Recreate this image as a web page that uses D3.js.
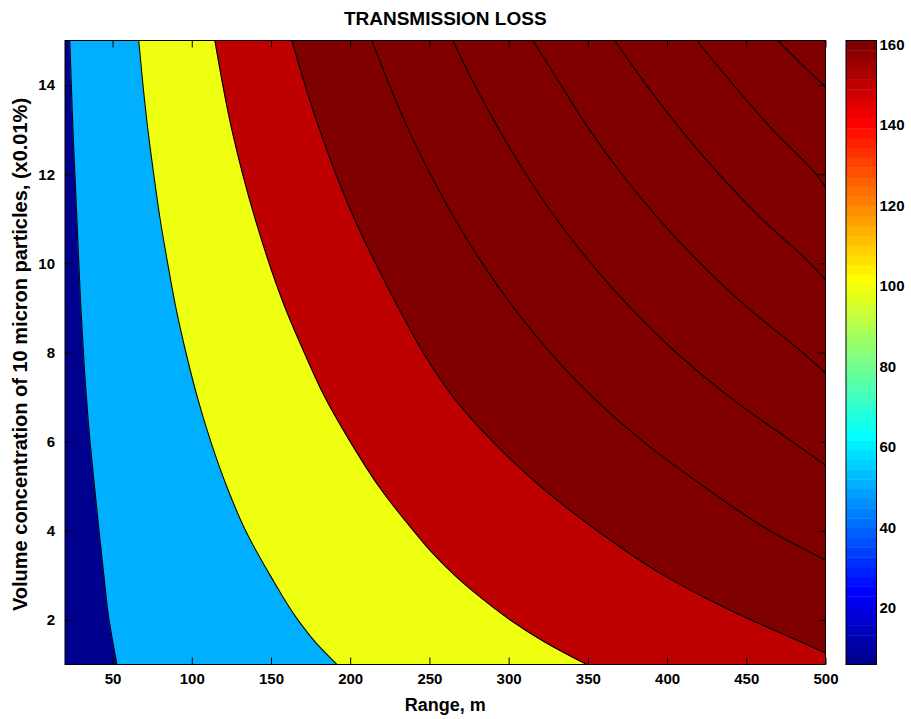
<!DOCTYPE html>
<html>
<head>
<meta charset="utf-8">
<script src="https://cdn.jsdelivr.net/npm/d3@7"></script>
<style>
  body { margin: 0; background: #fff; }
  svg { display: block; }
  text { font-family: "Liberation Sans", Arial, Helvetica, sans-serif; font-weight: bold; fill: #000; }
</style>
</head>
<body>
<svg id="chart" width="911" height="719"></svg>
<script>
// Transmission loss (dB) over range (m) and particle volume concentration.
const rangeExtent = [20, 500];
const concExtent = [1, 15];
const rangeTicks = [50, 100, 150, 200, 250, 300, 350, 400, 450, 500];
const concTicks = [2, 4, 6, 8, 10, 12, 14];
const colorbarTicks = [20, 40, 60, 80, 100, 120, 140, 160];
const colorLimits = [6, 161];
const belowLowest = 6;  // loss value shown for the band under the first contour
const levels = [50, 100, 150, 200, 250, 300, 350, 400, 450, 500];

// Contour lines as [range m, concentration] pairs, top edge downwards.
const contour50 = [[23,15],[25,13],[27.5,11],[30,9],[32.5,7.5],[35.8,6],[38.6,5],[41.5,4],[44.5,3],[47.8,2],[50.2,1.5],[52.8,1]];
const contour100 = [[66.5,15],[69.2,14],[72.3,13],[76,12],[80,11],[84.8,10],[90,9],[96.3,8],[103.5,7],[112,6],[122,5],[134,4],[149.5,3],[167,2],[178,1.5],[191.6,1]];
const contour150 = [[114.6,15],[125.3,13],[140,11],[159,9],[171,8],[184,7],[200,6],[218,5],[240,4],[252,3.5],[266,3],[282.5,2.5],[301,2],[323,1.5],[349.3,1]];
const contour200 = [[163.2,15],[171.5,14],[180.7,13],[191,12],[202.6,11],[216,10],[230.5,9],[246,8],[265,7],[290,6],[320,5],[356,4],[398,3],[424,2.5],[453,2],[485,1.5],[500,1.26]];
const contour250 = [[213.7,15],[224.8,14],[236.8,13],[250.6,12],[266,11],[283.4,10],[303.3,9],[326.2,8],[353,7],[385,6],[423,5],[465,4],[500,3.34]];
const contour300 = [[264.8,15],[278.6,14],[294,13],[311,12],[330,11],[352,10],[377,9],[405.7,8],[439.5,7],[479,6],[500,5.47]];
const contour350 = [[315.3,15],[333,14],[351,13],[371.5,12],[394.7,11],[421,10],[451,9],[485.5,8],[500,7.54]];
const contour400 = [[367,15],[387,14],[408.7,13],[432.8,12],[459.6,11],[490.3,10],[500,9.63]];
const contour450 = [[418.7,15],[442,14],[466.5,13],[494,12],[500,11.71]];
const contour500 = [[469.8,15],[484,14.5],[500,13.96]];

const contours = [contour50, contour100, contour150, contour200, contour250,
                  contour300, contour350, contour400, contour450, contour500];

// MATLAB-style jet colormap with 64 entries
const nColors = 64;
function jet(k) {
  const i = k + 1;
  const cl = v => Math.max(0, Math.min(1, v));
  const r = cl(Math.min((i - 24) / 16, (72 - i) / 16));
  const g = cl(Math.min((i - 8) / 16, (56 - i) / 16));
  const b = cl(Math.min((i + 8) / 16, (40 - i) / 16));
  return d3.rgb(Math.round(r * 255), Math.round(g * 255), Math.round(b * 255)).formatHex();
}
function colorIndex(v) {
  const t = (v - colorLimits[0]) / (colorLimits[1] - colorLimits[0]);
  return Math.max(0, Math.min(nColors - 1, Math.floor(t * nColors)));
}
const colorOf = v => jet(colorIndex(v));

const svg = d3.select("#chart");
const plot = { left: 65, right: 825.5, top: 40.5, bottom: 664.5 };

const x = d3.scaleLinear().domain(rangeExtent).range([plot.left, plot.right]);
const y = d3.scaleLinear().domain(concExtent).range([plot.bottom, plot.top]);

svg.append("defs").append("clipPath").attr("id", "plotClip")
  .append("rect")
  .attr("x", x(rangeExtent[0])).attr("y", y(concExtent[1]))
  .attr("width", x(rangeExtent[1]) - x(rangeExtent[0]))
  .attr("height", y(concExtent[0]) - y(concExtent[1]));

const field = svg.append("g").attr("clip-path", "url(#plotClip)");

// lowest band
field.append("rect")
  .attr("x", x(rangeExtent[0])).attr("y", y(concExtent[1]))
  .attr("width", x(rangeExtent[1]) - x(rangeExtent[0]))
  .attr("height", y(concExtent[0]) - y(concExtent[1]))
  .attr("fill", colorOf(belowLowest));

// each band fills everything beyond its contour (higher range / concentration)
const band = d3.area()
  .y(d => y(d[1]))
  .x0(d => x(d[0]))
  .x1(() => x(rangeExtent[1]))
  .curve(d3.curveMonotoneY);

const contourLine = d3.line()
  .x(d => x(d[0]))
  .y(d => y(d[1]))
  .curve(d3.curveMonotoneY);

levels.forEach((lv, i) => {
  field.append("path")
    .attr("d", band(contours[i]))
    .attr("fill", colorOf(lv))
    .attr("stroke", colorOf(lv))
    .attr("stroke-width", 0.5);
});
levels.forEach((lv, i) => {
  field.append("path")
    .attr("d", contourLine(contours[i]))
    .attr("fill", "none")
    .attr("stroke", "#000")
    .attr("stroke-width", 1.1);
});

// axes with inward ticks on all four sides
const tickLen = 7;
function styleAxis(g, size) {
  g.select(".domain").remove();
  g.selectAll("line").attr("stroke", "#000").attr("stroke-width", 1);
  g.selectAll("text").style("font-size", size + "px").style("font-weight", "bold")
    .style("font-family", '"Liberation Sans", Arial, sans-serif');
}
svg.append("g").attr("transform", `translate(0,${plot.bottom})`)
  .call(d3.axisBottom(x).tickValues(rangeTicks).tickSizeInner(-tickLen).tickSizeOuter(0).tickPadding(9))
  .call(g => styleAxis(g, 15));
svg.append("g").attr("transform", `translate(0,${plot.top})`)
  .call(d3.axisTop(x).tickValues(rangeTicks).tickSizeInner(-tickLen).tickSizeOuter(0).tickFormat(""))
  .call(g => styleAxis(g, 15));
svg.append("g").attr("transform", `translate(${plot.left},0)`)
  .call(d3.axisLeft(y).tickValues(concTicks).tickSizeInner(-tickLen).tickSizeOuter(0).tickPadding(10))
  .call(g => styleAxis(g, 15));
svg.append("g").attr("transform", `translate(${plot.right},0)`)
  .call(d3.axisRight(y).tickValues(concTicks).tickSizeInner(-tickLen).tickSizeOuter(0).tickFormat(""))
  .call(g => styleAxis(g, 15));

svg.append("rect")
  .attr("x", plot.left).attr("y", plot.top)
  .attr("width", plot.right - plot.left).attr("height", plot.bottom - plot.top)
  .attr("fill", "none").attr("stroke", "#000").attr("stroke-width", 1);

// colorbar
const cb = { left: 846, right: 876.5 };
const cbScale = d3.scaleLinear().domain(colorLimits).range([plot.bottom, plot.top]);
const step = (colorLimits[1] - colorLimits[0]) / nColors;
const cbG = svg.append("g");
cbG.selectAll("rect.cell")
  .data(d3.range(nColors))
  .join("rect")
  .attr("class", "cell")
  .attr("x", cb.left)
  .attr("width", cb.right - cb.left)
  .attr("y", k => cbScale(colorLimits[0] + (k + 1) * step))
  .attr("height", k => cbScale(colorLimits[0] + k * step) - cbScale(colorLimits[0] + (k + 1) * step) + 0.4)
  .attr("fill", k => jet(k));
cbG.append("rect")
  .attr("x", cb.left).attr("y", plot.top)
  .attr("width", cb.right - cb.left).attr("height", plot.bottom - plot.top)
  .attr("fill", "none").attr("stroke", "#000").attr("stroke-width", 1);
svg.append("g").attr("transform", `translate(${cb.right},0)`)
  .call(d3.axisRight(cbScale).tickValues(colorbarTicks).tickSize(0).tickPadding(3))
  .call(g => styleAxis(g, 15));

// titles
svg.append("text")
  .attr("x", (plot.left + plot.right) / 2).attr("y", 25)
  .attr("text-anchor", "middle").style("font-size", "19px")
  .text("TRANSMISSION LOSS");
svg.append("text")
  .attr("x", (plot.left + plot.right) / 2).attr("y", 711)
  .attr("text-anchor", "middle").style("font-size", "18px")
  .text("Range, m");
svg.append("text")
  .attr("transform", `translate(27,${(plot.top + plot.bottom) / 2 + 2}) rotate(-90)`)
  .attr("text-anchor", "middle").style("font-size", "20px")
  .text("Volume concentration of 10 micron particles, (x0.01%)");
</script>
</body>
</html>
